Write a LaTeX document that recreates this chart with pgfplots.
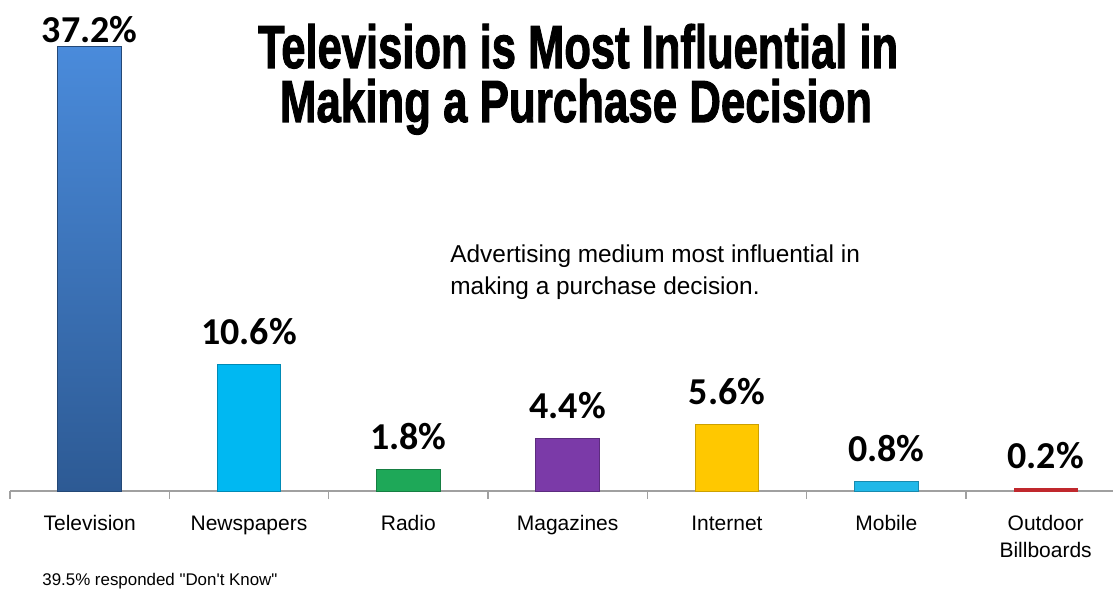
\documentclass[border=0pt]{standalone}
\usepackage{pgfplots}
\pgfplotsset{compat=1.18}
\usepackage{fontspec}
\setmainfont{Liberation Sans}
\newfontfamily\calib{Carlito}
\newfontfamily\plainsans{Liberation Sans}
\newfontfamily\titlefont{Liberation Sans}[BoldFeatures={FakeBold=2}]
\definecolor{tvtop}{HTML}{4A8BDB}
\definecolor{tvbot}{HTML}{2D5A94}
\definecolor{news}{HTML}{00B8F2}
\definecolor{radio}{HTML}{1EA858}
\definecolor{mag}{HTML}{7B3AA8}
\definecolor{inet}{HTML}{FFC800}
\definecolor{mob}{HTML}{20B8E8}
\definecolor{outd}{HTML}{C0282D}
\definecolor{axgray}{HTML}{A0A0A0}
\begin{document}
\begin{tikzpicture}[x=1pt,y=1pt]
\path[use as bounding box] (0,0) rectangle (556.5,294.5);
\begin{axis}[
  at={(5pt,49pt)}, anchor=south west,
  scale only axis, width=551.5pt, height=245.5pt,
  xmin=-0.5, xmax=6.423, ymin=0, ymax=41.05,
  axis x line*=bottom, axis y line=none,
  x axis line style={-, draw=axgray, line width=0.8pt},
  xtick={0,1,2,3,4,5,6},
  xticklabels={\strut Television,\strut Newspapers,\strut Radio,\strut Magazines,\strut Internet,\strut Mobile,{\strut Outdoor\\Billboards}},
  minor xtick={-0.5,0.5,1.5,2.5,3.5,4.5,5.5},
  major tick length=0pt, minor tick length=4pt,
  xtick align=outside,
  every tick/.style={draw=axgray, line width=0.8pt},
  xticklabel style={anchor=north, inner sep=0pt, yshift=-10pt, align=center,
    font=\fontsize{10.5}{13.5}\selectfont},
  ytick=\empty,
  clip=false,
  ybar, bar width=0.40, bar shift=0pt,
  nodes near coords={\pgfmathprintnumber[fixed,fixed zerofill,precision=1,assume math mode=true]{\pgfplotspointmeta}\%},
  every node near coord/.append style={anchor=base, inner sep=0pt, yshift=10pt,
    font=\calib\bfseries\fontsize{19}{22}\selectfont, text=black},
]
\addplot[top color=tvtop, bottom color=tvbot, draw=tvbot!80!black, line width=0.4pt,
  every node near coord/.append style={yshift=-8pt}] coordinates {(0,37.2)};
\addplot[fill=news, draw=news!75!black, line width=0.4pt] coordinates {(1,10.6)};
\addplot[fill=radio, draw=radio!75!black, line width=0.4pt] coordinates {(2,1.8)};
\addplot[fill=mag, draw=mag!75!black, line width=0.4pt] coordinates {(3,4.4)};
\addplot[fill=inet, draw=inet!80!black, line width=0.4pt] coordinates {(4,5.6)};
\addplot[fill=mob, draw=mob!75!black, line width=0.4pt] coordinates {(5,0.8)};
\addplot[fill=outd, draw=outd, line width=0.2pt] coordinates {(6,0.2)};
\end{axis}
\node[anchor=base, inner sep=0pt] at (289,260.5) {\resizebox{320pt}{22pt}{\titlefont\bfseries Television is Most Influential in}};
\node[anchor=base, inner sep=0pt] at (288,233.5) {\resizebox{296pt}{21.5pt}{\titlefont\bfseries Making a Purchase Decision}};
\node[anchor=base west, inner sep=0pt, font=\fontsize{12.2}{16}\selectfont] at (225,163) {Advertising medium most influential in};
\node[anchor=base west, inner sep=0pt, font=\fontsize{12.2}{16}\selectfont] at (225,147) {making a purchase decision.};
\node[anchor=base west, inner sep=0pt, font=\plainsans\fontsize{8.45}{10}\selectfont] at (21,2) {39.5\% responded "Don't Know"};
\end{tikzpicture}
\end{document}
